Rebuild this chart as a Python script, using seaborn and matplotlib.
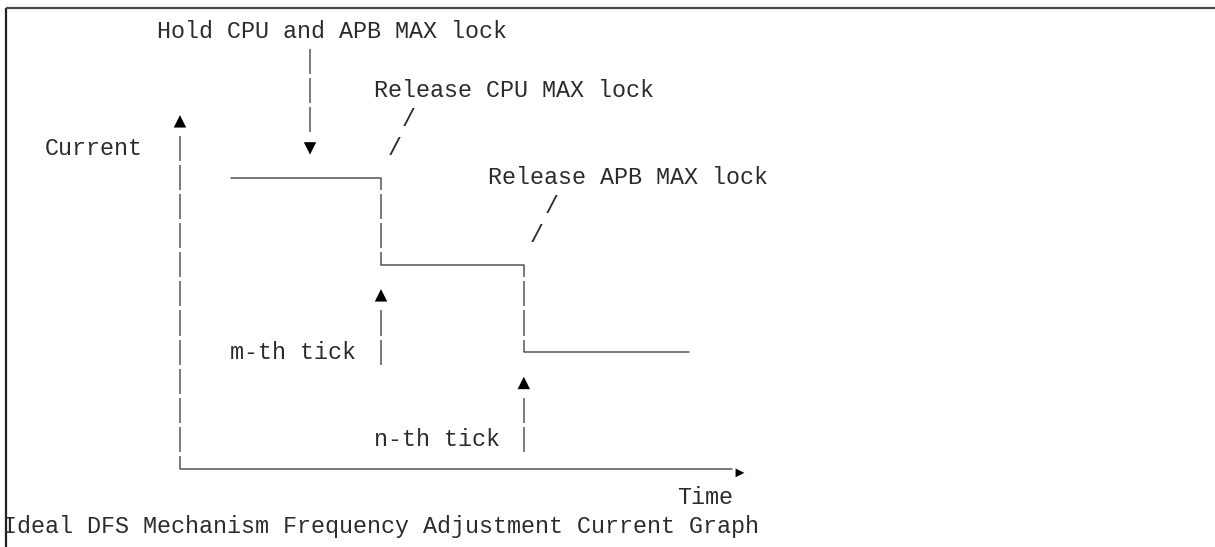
import numpy as np
import pandas as pd
import matplotlib
matplotlib.use("Agg")
import matplotlib.pyplot as plt
import seaborn as sns

# ---- diagram data (grid units: columns of 14 px, rows of 29.1 px) ----
step_time = [16.29, 27.0, 37.2, 49.0]     # time points of the current steps
step_level = [5, 8, 11]                   # current level rows (smaller row = higher current)

axis_origin = (12.64, 15.0)               # origin of Current/Time axes
axis_top_row = 3.57
axis_time_end = 52.07

label_text = ["Hold CPU and APB MAX lock", "Release CPU MAX lock",
              "Release APB MAX lock", "Current", "m-th tick", "n-th tick",
              "Time", "Ideal DFS Mechanism Frequency Adjustment Current Graph"]
label_col = [11.0, 26.5, 34.64, 3.0, 16.21, 26.5, 48.14, 0.0]
label_row = [0, 2, 5, 4, 11, 14, 16, 17]

slash_col = [29.0, 28.0, 39.2, 38.1]
slash_row = [3, 4, 6, 7]

hold_col = 21.93
hold_rows = (0.57, 3.43)
tick_cols = [27.0, 37.2]                  # m-th and n-th tick
tick_rows = [(9.57, 11.43), (12.57, 14.43)]

up_col = [12.64, 27.0, 37.2]
up_row = [3.07, 9.05, 12.06]
down_col = [21.93]
down_row = [4.0]
right_col = [52.64]
right_row = [15.15]

# ---- figure ----
W, H = 1215, 547
fig = plt.figure(figsize=(W / 100, H / 100), dpi=100)
sns.set_style("white")
ax = fig.add_axes([0, 0, 1, 1])
ax.set_xlim(-3 / 14, (W - 3) / 14)
ax.set_ylim((H - 32) / 29.1, -32 / 29.1)
ax.axis("off")

FONT = ["Liberation Mono", "DejaVu Sans Mono"]
TXT = "#2b2b2b"
LINE = "#555555"
LW = 1.1
HALF = 0.43


def vbar(x, r_from, r_to):
    """Vertical line drawn as one dash per text row, like box-drawing glyphs."""
    for r in range(int(np.floor(r_from)) - 1, int(np.ceil(r_to)) + 2):
        lo = max(r - HALF, r_from)
        hi = min(r + HALF, r_to)
        if hi > lo:
            ax.vlines(x, lo, hi, color=LINE, lw=LW)


# frame of the code block
ax.plot([0.21, 0.21], [-0.825, 20], color="#222222", lw=1.6, solid_capstyle="butt")
ax.plot([0.21, 100], [-0.825, -0.825], color="#4a4a4a", lw=1.6, solid_capstyle="butt")

# horizontal segments: the step levels and the time axis
segs = []
for i, lvl in enumerate(step_level):
    segs.append({"seg": i, "t": step_time[i], "r": lvl})
    segs.append({"seg": i, "t": step_time[i + 1], "r": lvl})
segs.append({"seg": 9, "t": axis_origin[0], "r": axis_origin[1]})
segs.append({"seg": 9, "t": axis_time_end, "r": axis_origin[1]})
df = pd.DataFrame(segs)
sns.lineplot(data=df, x="t", y="r", units="seg", estimator=None, sort=False,
             color=LINE, lw=LW, ax=ax, legend=False)

# vertical drops of the step
for i in range(len(step_level) - 1):
    vbar(step_time[i + 1], step_level[i], step_level[i + 1])

# current axis
vbar(axis_origin[0], axis_top_row, axis_origin[1])
# annotation stems
vbar(hold_col, *hold_rows)
for c, (a, b) in zip(tick_cols, tick_rows):
    vbar(c, a, b)

# arrow heads
sns.scatterplot(x=up_col, y=up_row, marker="^", s=80, color="black",
                edgecolor="none", ax=ax, legend=False)
sns.scatterplot(x=down_col, y=down_row, marker="v", s=80, color="black",
                edgecolor="none", ax=ax, legend=False)
sns.scatterplot(x=right_col, y=right_row, marker=">", s=40, color="black",
                edgecolor="none", ax=ax, legend=False)

# texts
for t, c, r in zip(label_text, label_col, label_row):
    ax.text(c, r, t, family=FONT, fontsize=16.8, color=TXT,
            ha="left", va="center")
for c, r in zip(slash_col, slash_row):
    ax.text(c, r, "/", family=FONT, fontsize=16.8, color=TXT,
            ha="center", va="center")

fig.savefig("out.png", dpi=100)
